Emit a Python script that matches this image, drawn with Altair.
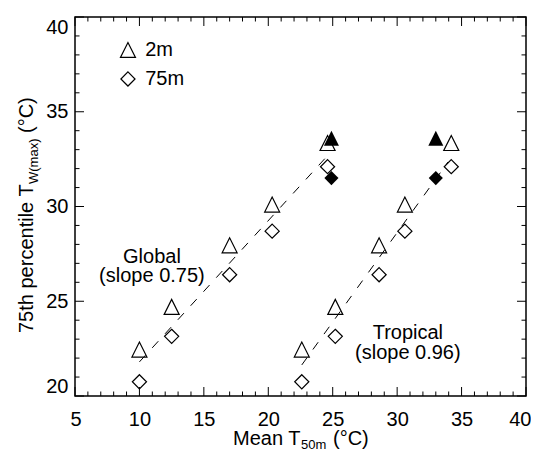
import altair as alt
import pandas as pd

FONT = "Liberation Sans"

# ---------------- data ----------------
global_x = [10.0, 12.5, 17.0, 20.3, 24.6]
tropical_x = [22.6, 25.2, 28.6, 30.6, 34.2]
t2m_y = [22.45, 24.7, 27.95, 30.1, 33.35]
t75m_y = [20.75, 23.15, 26.4, 28.7, 32.1]

filled_x = [24.9, 33.0]
filled_2m_y = [33.6, 33.6]
filled_75m_y = [31.5, 31.5]

fit_group = ["Global", "Global", "Tropical", "Tropical"]
fit_x = [10.0, 24.65, 22.6, 33.95]
fit_y = [21.8, 32.72, 21.64, 32.35]

note_text = ["Global", "(slope 0.75)", "Tropical", "(slope 0.96)"]
note_x = [10.97, 10.97, 30.83, 30.83]
note_y = [27.33, 26.33, 23.32, 22.27]

legend_label = ["2m", "75m"]
legend_x = [9.11, 9.11]
legend_text_x = [10.45, 10.45]
legend_y = [38.26, 36.73]

x_major = [5, 10, 15, 20, 25, 30, 35, 40]
x_minor = [6, 7, 8, 9, 11, 12, 13, 14, 16, 17, 18, 19, 21, 22, 23, 24,
           26, 27, 28, 29, 31, 32, 33, 34, 36, 37, 38, 39]
y_major = [20, 25, 30, 35, 40]
y_minor = [21, 22, 23, 24, 26, 27, 28, 29, 31, 32, 33, 34, 36, 37, 38, 39]

# ---------------- layout ----------------
W, H = 451, 379
TRI = "M-1,1L1,1L0,-1Z"
DIA = "M0,-1L1,0L0,1L-1,0Z"

xs = alt.Scale(domain=[5, 40], nice=False, zero=False)
ys = alt.Scale(domain=[20, 40], nice=False, zero=False)
AX = alt.Axis(values=x_major, title=None, labelPadding=13, labelFlush=True, labelFlushOffset=5)
AY = alt.Axis(values=y_major, title=None, labelPadding=7, labelFlush=True)


def X(f):
    return alt.X(f, scale=xs, axis=AX)


def Y(f):
    return alt.Y(f, scale=ys, axis=AY)


pts = pd.DataFrame({
    "x": global_x + tropical_x + global_x + tropical_x,
    "y": t2m_y + t2m_y + t75m_y + t75m_y,
    "kind": ["2m"] * 10 + ["75m"] * 10,
})

open_tri = alt.Chart(pts[pts.kind == "2m"]).mark_point(
    shape=TRI, filled=False, size=225, color="black", strokeWidth=1.2, opacity=1
).encode(x=X("x:Q"), y=Y("y:Q"))

open_dia = alt.Chart(pts[pts.kind == "75m"]).mark_point(
    shape=DIA, filled=False, size=200, color="black", strokeWidth=1.2, opacity=1
).encode(x=X("x:Q"), y=Y("y:Q"))

fdf = pd.DataFrame({"x": filled_x + filled_x, "y": filled_2m_y + filled_75m_y,
                    "kind": ["2m", "2m", "75m", "75m"]})
fill_tri = alt.Chart(fdf[fdf.kind == "2m"]).mark_point(
    shape=TRI, filled=True, size=225, color="black", opacity=1
).encode(x=X("x:Q"), y=Y("y:Q"))
fill_dia = alt.Chart(fdf[fdf.kind == "75m"]).mark_point(
    shape=DIA, filled=True, size=200, color="black", opacity=1
).encode(x=X("x:Q"), y=Y("y:Q"))

fit = alt.Chart(pd.DataFrame({"g": fit_group, "x": fit_x, "y": fit_y})).mark_line(
    color="black", strokeWidth=1, strokeDash=[9, 10]
).encode(x=X("x:Q"), y=Y("y:Q"), detail="g:N")

notes = alt.Chart(pd.DataFrame({"t": note_text, "x": note_x, "y": note_y})).mark_text(
    font=FONT, fontSize=20, color="black", align="center", baseline="middle"
).encode(x=X("x:Q"), y=Y("y:Q"), text="t:N")

ldf = pd.DataFrame({"l": legend_label, "x": legend_x, "tx": legend_text_x, "y": legend_y})
leg_tri = alt.Chart(ldf.iloc[[0]]).mark_point(
    shape=TRI, filled=False, size=225, color="black", strokeWidth=1.2, opacity=1
).encode(x=X("x:Q"), y=Y("y:Q"))
leg_dia = alt.Chart(ldf.iloc[[1]]).mark_point(
    shape=DIA, filled=False, size=200, color="black", strokeWidth=1.2, opacity=1
).encode(x=X("x:Q"), y=Y("y:Q"))
leg_txt = alt.Chart(ldf).mark_text(
    font=FONT, fontSize=20, color="black", align="left", baseline="middle"
).encode(x=X("tx:Q"), y=Y("y:Q"), text="l:N")


# ---------------- ticks (inward, all four sides) ----------------
def xticks(vals, length):
    d = alt.Chart(pd.DataFrame({"x": vals}))
    bottom = d.mark_rule(color="black", strokeWidth=1).encode(
        x=X("x:Q"), y=alt.value(H), y2=alt.value(H - length))
    top = d.mark_rule(color="black", strokeWidth=1).encode(
        x=X("x:Q"), y=alt.value(0), y2=alt.value(length))
    return [bottom, top]


def yticks(vals, length):
    d = alt.Chart(pd.DataFrame({"y": vals}))
    left = d.mark_rule(color="black", strokeWidth=1).encode(
        y=Y("y:Q"), x=alt.value(0), x2=alt.value(length))
    right = d.mark_rule(color="black", strokeWidth=1).encode(
        y=Y("y:Q"), x=alt.value(W), x2=alt.value(W - length))
    return [left, right]


ticks = xticks(x_major, 9) + xticks(x_minor, 4.5) + yticks(y_major, 9) + yticks(y_minor, 4.5)


# ---------------- titles with subscripts ----------------
def txt(s, x, y, size, angle=0):
    kw = dict(font=FONT, fontSize=size, color="black", align="left", baseline="alphabetic")
    if angle:
        kw["angle"] = angle
    return alt.Chart(pd.DataFrame({"t": [s]})).mark_text(**kw).encode(
        x=alt.value(x), y=alt.value(y), text="t:N")


xtitle = [
    txt("Mean T", 158, 428, 20),
    txt("50m", 226, 432, 13),
    txt("(°C)", 258, 428, 20),
]
ytitle = [
    txt("75th percentile T", -42, 316, 20, 270),
    txt("W(max)", -37, 167, 13, 270),
    txt("(°C)", -42, 116, 20, 270),
]

chart = alt.layer(
    open_tri, fit, open_dia, fill_tri, fill_dia, notes, leg_tri, leg_dia, leg_txt,
    *ticks, *xtitle, *ytitle
).properties(
    width=W, height=H,
    autosize=alt.AutoSizeParams(type="none"),
    padding={"left": 67, "top": 9, "right": 5, "bottom": 54},
).configure_view(
    stroke="black", strokeWidth=1.5
).configure_axis(
    labelFont=FONT, labelFontSize=20, labelColor="black",
    ticks=False, tickSize=0, domain=False, grid=False
)

chart.save("out.html", embed_options={"renderer": "svg", "actions": False})
